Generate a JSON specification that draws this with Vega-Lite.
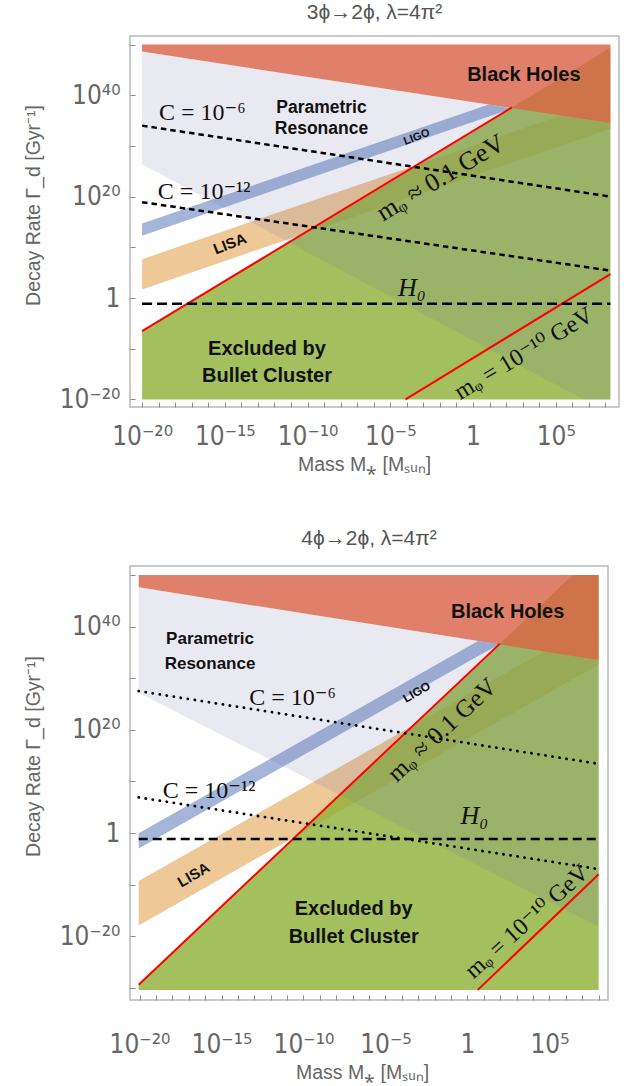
{
  "$schema": "https://vega.github.io/schema/vega-lite/v6.json",
  "padding": {"left": 22, "top": 0, "right": 5, "bottom": 5},
  "bounds": "flush",
  "spacing": 159,
  "background": "white",
  "config": {
    "view": {"stroke": "#b8b8b8", "strokeWidth": 1.5},
    "font": "Liberation Sans",
    "axis": {
      "domain": false, "grid": false, "ticks": true, "tickSize": -5, "tickColor": "#8c8c8c", "tickWidth": 1,
      "labelFont": "'DejaVu Sans Condensed', 'DejaVu Sans', sans-serif", "labelFontSize": 26, "labelColor": "#666666",
      "titleFont": "Liberation Sans", "titleFontSize": 19.5, "titleFontWeight": "normal", "titleColor": "#666666",
      "labelOverlap": false, "labelFlush": false
    },
    "title": {"font": "Liberation Sans", "fontSize": 21, "fontWeight": "normal", "color": "#555555"}
  },
  "vconcat": [
    {
      "title": {"text": "3ϕ→2ϕ,  λ=4π²", "offset": 9},
      "width": 489,
      "height": 371,
      "encoding": {
        "x": {
          "field": "x", "type": "quantitative",
          "scale": {"domain": [-20.73, 8.82], "nice": false, "zero": false},
          "axis": {
            "values": [-20, -19, -18, -17, -16, -15, -14, -13, -12, -11, -10, -9, -8, -7, -6, -5, -4, -3, -2, -1, 0, 1, 2, 3, 4, 5, 6, 7, 8],
            "labelExpr": "datum.value == -20 ? '10⁻²⁰' : datum.value == -15 ? '10⁻¹⁵' : datum.value == -10 ? '10⁻¹⁰' : datum.value == -5 ? '10⁻⁵' : datum.value == 0 ? '1' : datum.value == 5 ? '10⁵' : ''",
            "labelPadding": 21, "labelBaseline": "top",
            "title": "Mass M⁎ [Mₛᵤₙ]", "titleX": 234, "titleY": 57, "titleBaseline": "middle"
          }
        },
        "y": {
          "field": "y", "type": "quantitative",
          "scale": {"domain": [-21.5, 51.68], "nice": false, "zero": false},
          "axis": {
            "values": [-20, -10, 0, 10, 20, 30, 40, 50],
            "labelExpr": "datum.value == 40 ? '10⁴⁰' : datum.value == 20 ? '10²⁰' : datum.value == 0 ? '1' : datum.value == -20 ? '10⁻²⁰' : ''",
            "labelPadding": 15,
            "title": "Decay Rate Γ_d [Gyr⁻¹]", "titleX": -97, "titleY": 169, "titleBaseline": "middle"
          }
        }
      },
      "layer": [
        {
          "description": "LISA sensitivity band",
          "data": {"values": [{"x": -20, "y": 7.65, "y2": 1.7}, {"x": 5.3, "y": 36.0, "y2": 30.0}, {"x": 8.3, "y": 34.5, "y2": 33.4}]},
          "mark": {"type": "area", "orient": "vertical", "color": "#eab676", "opacity": 0.75},
          "encoding": {"y2": {"field": "y2"}}
        },
        {
          "description": "LIGO sensitivity band",
          "data": {"values": [{"x": -20, "y": 14.7, "y2": 12.3}, {"x": 0.95, "y": 38.17, "y2": 35.8}, {"x": 2.4, "y": 37.4, "y2": 37.4}]},
          "mark": {"type": "area", "orient": "vertical", "color": "#849ccb", "opacity": 0.75},
          "encoding": {"y2": {"field": "y2"}}
        },
        {
          "description": "Excluded by Bullet Cluster",
          "data": {"values": [{"x": -20, "y": -6.55, "y2": -20}, {"x": 8.3, "y": 49.35, "y2": -20}]},
          "mark": {"type": "area", "orient": "vertical", "color": "#8db036", "opacity": 0.8},
          "encoding": {"y2": {"field": "y2"}}
        },
        {
          "description": "Parametric resonance",
          "data": {"values": [{"x": -20, "y": 48.6, "y2": 26.4}, {"x": 6.67, "y": 35.3, "y2": -20}, {"x": 8.3, "y": 34.5, "y2": -20}]},
          "mark": {"type": "area", "orient": "vertical", "color": "#6e6eaa", "opacity": 0.15},
          "encoding": {"y2": {"field": "y2"}}
        },
        {
          "description": "Black holes",
          "data": {"values": [{"x": -20, "y": 50, "y2": 48.6}, {"x": 8.3, "y": 50, "y2": 34.5}]},
          "mark": {"type": "area", "orient": "vertical", "color": "#d96045", "opacity": 0.8},
          "encoding": {"y2": {"field": "y2"}}
        },
        {
          "description": "scalar mass contours",
          "data": {"values": [
            {"k": "m01", "x": -20, "y": -6.55}, {"k": "m01", "x": 2.35, "y": 37.6},
            {"k": "m10", "x": -4.08, "y": -20}, {"k": "m10", "x": 8.3, "y": 4.7}
          ]},
          "mark": {"type": "line", "color": "#ff0000", "strokeWidth": 2},
          "encoding": {"detail": {"field": "k"}}
        },
        {
          "description": "C contours",
          "data": {"values": [
            {"k": "c6", "x": -20, "y": 34.0}, {"k": "c6", "x": 8.3, "y": 20.0},
            {"k": "c12", "x": -20, "y": 18.9}, {"k": "c12", "x": 8.3, "y": 5.4}
          ]},
          "mark": {"type": "line", "color": "#000000", "strokeWidth": 2.5, "strokeDash": [5.5, 4]},
          "encoding": {"detail": {"field": "k"}}
        },
        {
          "description": "Hubble rate",
          "data": {"values": [{"x": -20, "y": -1.15}, {"x": 8.3, "y": -1.15}]},
          "mark": {"type": "line", "color": "#000000", "strokeWidth": 2.5, "strokeDash": [10, 5]},
          "encoding": {}
        },
        {
          "data": {"values": [{"x": 3.07, "y": 43.9, "t": "Black Holes"}, {"x": -12.45, "y": -10.0, "t": "Excluded by\nBullet Cluster"}]},
          "mark": {"type": "text", "font": "Liberation Sans", "fontWeight": "bold", "fontSize": 20, "lineHeight": 27, "lineBreak": "\n", "color": "#111111"},
          "encoding": {"text": {"field": "t"}}
        },
        {
          "data": {"values": [{"x": -9.16, "y": 37.4, "t": "Parametric\nResonance"}]},
          "mark": {"type": "text", "font": "Liberation Sans", "fontWeight": "bold", "fontSize": 17.5, "lineHeight": 21, "lineBreak": "\n", "color": "#111111"},
          "encoding": {"text": {"field": "t"}}
        },
        {
          "data": {"values": [{"x": -3.4, "y": 31.7, "t": "LIGO"}]},
          "mark": {"type": "text", "font": "Liberation Sans", "fontWeight": "bold", "fontSize": 11, "angle": 339, "color": "#111111"},
          "encoding": {"text": {"field": "t"}}
        },
        {
          "data": {"values": [{"x": -14.7, "y": 10.7, "t": "LISA"}]},
          "mark": {"type": "text", "font": "Liberation Sans", "fontWeight": "bold", "fontSize": 15, "angle": 339, "color": "#111111"},
          "encoding": {"text": {"field": "t"}}
        },
        {
          "data": {"values": [{"x": -16.36, "y": 36.5, "t": "C = 10⁻⁶"}, {"x": -16.25, "y": 21.0, "t": "C = 10⁻¹²"}]},
          "mark": {"type": "text", "font": "'Liberation Serif', 'DejaVu Serif', serif", "fontSize": 24, "color": "#111111"},
          "encoding": {"text": {"field": "t"}}
        },
        {
          "data": {"values": [{"x": -3.7, "y": 1.95, "t": "H₀"}]},
          "mark": {"type": "text", "font": "'Liberation Serif', 'DejaVu Serif', serif", "fontStyle": "italic", "fontSize": 26, "color": "#111111"},
          "encoding": {"text": {"field": "t"}}
        },
        {
          "data": {"values": [{"x": -1.96, "y": 23.7, "t": "mᵩ ≈ 0.1 GeV"}]},
          "mark": {"type": "text", "font": "'Liberation Serif', 'DejaVu Serif', serif", "fontSize": 26, "angle": 329, "color": "#111111"},
          "encoding": {"text": {"field": "t"}}
        },
        {
          "data": {"values": [{"x": 3.07, "y": -11.0, "t": "mᵩ = 10⁻¹⁰ GeV"}]},
          "mark": {"type": "text", "font": "'Liberation Serif', 'DejaVu Serif', serif", "fontSize": 24, "angle": 329, "color": "#111111"},
          "encoding": {"text": {"field": "t"}}
        }
      ]
    },
    {
      "title": {"text": "4ϕ→2ϕ,  λ=4π²", "offset": 13},
      "width": 478,
      "height": 434,
      "encoding": {
        "x": {
          "field": "x", "type": "quantitative",
          "scale": {"domain": [-20.58, 8.57], "nice": false, "zero": false},
          "axis": {
            "values": [-20, -19, -18, -17, -16, -15, -14, -13, -12, -11, -10, -9, -8, -7, -6, -5, -4, -3, -2, -1, 0, 1, 2, 3, 4, 5, 6, 7, 8],
            "labelExpr": "datum.value == -20 ? '10⁻²⁰' : datum.value == -15 ? '10⁻¹⁵' : datum.value == -10 ? '10⁻¹⁰' : datum.value == -5 ? '10⁻⁵' : datum.value == 0 ? '1' : datum.value == 5 ? '10⁵' : ''",
            "labelPadding": 36, "labelBaseline": "top",
            "title": "Mass M⁎ [Mₛᵤₙ]", "titleX": 232, "titleY": 72, "titleBaseline": "middle"
          }
        },
        "y": {
          "field": "y", "type": "quantitative",
          "scale": {"domain": [-32.36, 51.74], "nice": false, "zero": false},
          "axis": {
            "values": [-30, -20, -10, 0, 10, 20, 30, 40, 50],
            "labelExpr": "datum.value == 40 ? '10⁴⁰' : datum.value == 20 ? '10²⁰' : datum.value == 0 ? '1' : datum.value == -20 ? '10⁻²⁰' : ''",
            "labelPadding": 15,
            "title": "Decay Rate Γ_d [Gyr⁻¹]", "titleX": -97, "titleY": 190, "titleBaseline": "middle"
          }
        }
      },
      "layer": [
        {
          "description": "LISA sensitivity band",
          "data": {"values": [{"x": -20.05, "y": -9.3, "y2": -17.9}, {"x": 4.65, "y": 35.2, "y2": 26.6}, {"x": 8.0, "y": 33.5, "y2": 32.6}]},
          "mark": {"type": "area", "orient": "vertical", "color": "#eab676", "opacity": 0.75},
          "encoding": {"y2": {"field": "y2"}}
        },
        {
          "description": "LIGO sensitivity band",
          "data": {"values": [{"x": -20.05, "y": -0.06, "y2": -3.0}, {"x": 0.65, "y": 37.2, "y2": 34.3}, {"x": 1.98, "y": 36.6, "y2": 36.6}]},
          "mark": {"type": "area", "orient": "vertical", "color": "#849ccb", "opacity": 0.75},
          "encoding": {"y2": {"field": "y2"}}
        },
        {
          "description": "Excluded by Bullet Cluster",
          "data": {"values": [{"x": -20.05, "y": -29.4, "y2": -30.4}, {"x": 6.42, "y": 50, "y2": -30.4}, {"x": 8.0, "y": 50, "y2": -30.4}]},
          "mark": {"type": "area", "orient": "vertical", "color": "#8db036", "opacity": 0.8},
          "encoding": {"y2": {"field": "y2"}}
        },
        {
          "description": "Parametric resonance",
          "data": {"values": [{"x": -20.05, "y": 47.6, "y2": 27.2}, {"x": 8.0, "y": 33.5, "y2": -18.2}]},
          "mark": {"type": "area", "orient": "vertical", "color": "#6e6eaa", "opacity": 0.15},
          "encoding": {"y2": {"field": "y2"}}
        },
        {
          "description": "Black holes",
          "data": {"values": [{"x": -20.05, "y": 50, "y2": 47.6}, {"x": 8.0, "y": 50, "y2": 33.5}]},
          "mark": {"type": "area", "orient": "vertical", "color": "#d96045", "opacity": 0.8},
          "encoding": {"y2": {"field": "y2"}}
        },
        {
          "description": "scalar mass contours",
          "data": {"values": [
            {"k": "m01", "x": -20.05, "y": -29.4}, {"k": "m01", "x": 1.98, "y": 36.7},
            {"k": "m10", "x": 0.63, "y": -30.4}, {"k": "m10", "x": 8.0, "y": -8.0}
          ]},
          "mark": {"type": "line", "color": "#ff0000", "strokeWidth": 2},
          "encoding": {"detail": {"field": "k"}}
        },
        {
          "description": "C contours",
          "data": {"values": [
            {"k": "c6", "x": -20.05, "y": 27.5}, {"k": "c6", "x": 8.0, "y": 13.4},
            {"k": "c12", "x": -20.05, "y": 6.9}, {"k": "c12", "x": 8.0, "y": -7.0}
          ]},
          "mark": {"type": "line", "color": "#000000", "strokeWidth": 2.8, "strokeDash": [0.1, 7], "strokeCap": "round"},
          "encoding": {"detail": {"field": "k"}}
        },
        {
          "description": "Hubble rate",
          "data": {"values": [{"x": -20.05, "y": -1.15}, {"x": 8.0, "y": -1.15}]},
          "mark": {"type": "line", "color": "#000000", "strokeWidth": 2.5, "strokeDash": [9, 5]},
          "encoding": {}
        },
        {
          "data": {"values": [{"x": 2.45, "y": 42.9, "t": "Black Holes"}, {"x": -6.94, "y": -14.8, "t": "Excluded by\nBullet Cluster"}]},
          "mark": {"type": "text", "font": "Liberation Sans", "fontWeight": "bold", "fontSize": 20, "lineHeight": 28, "lineBreak": "\n", "color": "#111111"},
          "encoding": {"text": {"field": "t"}}
        },
        {
          "data": {"values": [{"x": -15.7, "y": 37.5, "t": "Parametric\nResonance"}]},
          "mark": {"type": "text", "font": "Liberation Sans", "fontWeight": "bold", "fontSize": 17, "lineHeight": 25, "lineBreak": "\n", "color": "#111111"},
          "encoding": {"text": {"field": "t"}}
        },
        {
          "data": {"values": [{"x": -3.1, "y": 27.3, "t": "LIGO"}]},
          "mark": {"type": "text", "font": "Liberation Sans", "fontWeight": "bold", "fontSize": 12, "angle": 330, "color": "#111111"},
          "encoding": {"text": {"field": "t"}}
        },
        {
          "data": {"values": [{"x": -16.7, "y": -8.1, "t": "LISA"}]},
          "mark": {"type": "text", "font": "Liberation Sans", "fontWeight": "bold", "fontSize": 15, "angle": 330, "color": "#111111"},
          "encoding": {"text": {"field": "t"}}
        },
        {
          "data": {"values": [{"x": -10.67, "y": 26.2, "t": "C = 10⁻⁶"}, {"x": -15.76, "y": 8.2, "t": "C = 10⁻¹²"}]},
          "mark": {"type": "text", "font": "'Liberation Serif', 'DejaVu Serif', serif", "fontSize": 24, "color": "#111111"},
          "encoding": {"text": {"field": "t"}}
        },
        {
          "data": {"values": [{"x": 0.42, "y": 3.2, "t": "H₀"}]},
          "mark": {"type": "text", "font": "'Liberation Serif', 'DejaVu Serif', serif", "fontStyle": "italic", "fontSize": 26, "color": "#111111"},
          "encoding": {"text": {"field": "t"}}
        },
        {
          "data": {"values": [{"x": -1.55, "y": 20.0, "t": "mᵩ ≈ 0.1 GeV"}]},
          "mark": {"type": "text", "font": "'Liberation Serif', 'DejaVu Serif', serif", "fontSize": 25, "angle": 317, "color": "#111111"},
          "encoding": {"text": {"field": "t"}}
        },
        {
          "data": {"values": [{"x": 3.64, "y": -17.2, "t": "mᵩ = 10⁻¹⁰ GeV"}]},
          "mark": {"type": "text", "font": "'Liberation Serif', 'DejaVu Serif', serif", "fontSize": 24, "angle": 318, "color": "#111111"},
          "encoding": {"text": {"field": "t"}}
        }
      ]
    }
  ]
}
